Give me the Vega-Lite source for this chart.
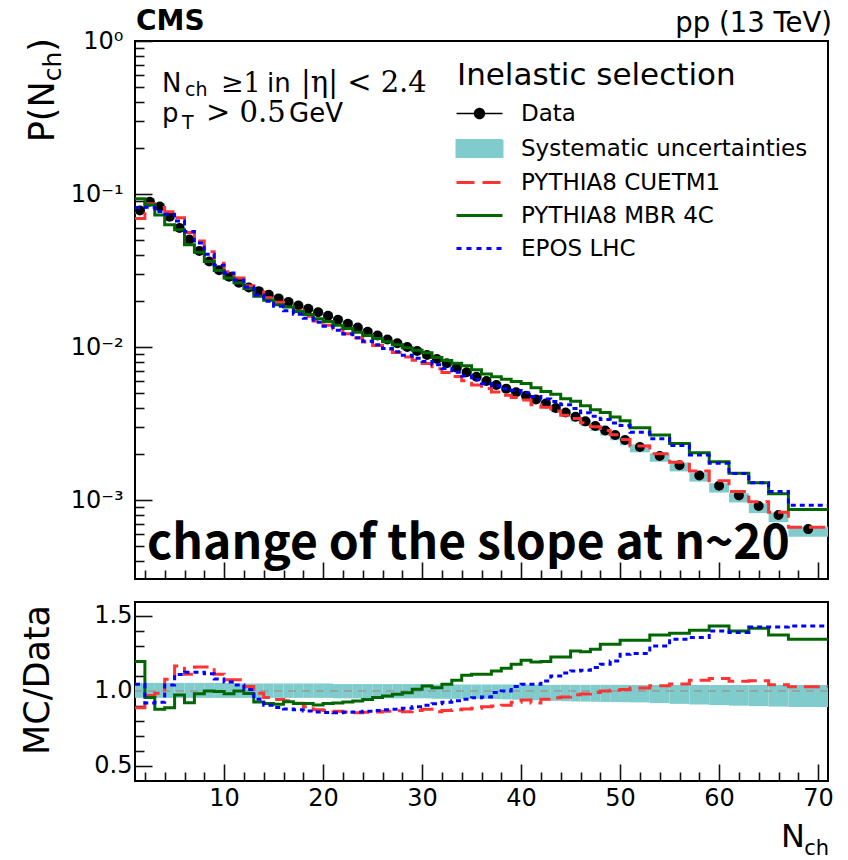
{
"$schema": "https://vega.github.io/schema/vega-lite/v6.json",
"background": "white",
"padding": {"left": 20, "top": 7, "right": 0, "bottom": 0},
"config": {
  "font": "DejaVu Sans",
  "view": {"stroke": "black", "strokeWidth": 2},
  "axis": {"grid": false, "domain": false, "tickColor": "#111111", "tickWidth": 1.6, "labelFont": "DejaVu Sans", "labelFontSize": 24, "labelColor": "black", "minExtent": 0}
},
"datasets": {
"bins": [
{"x0":1,"x1":2,"xc":1.5,"d":0.078,"dlo":0.0744,"dhi":0.0822,"lo":0.954,"hi":1.054},
{"x0":2,"x1":3,"xc":2.5,"d":0.089,"dlo":0.0849,"dhi":0.0938,"lo":0.954,"hi":1.054},
{"x0":3,"x1":4,"xc":3.5,"d":0.083,"dlo":0.0792,"dhi":0.0875,"lo":0.954,"hi":1.054},
{"x0":4,"x1":5,"xc":4.5,"d":0.071,"dlo":0.0677,"dhi":0.0748,"lo":0.954,"hi":1.054},
{"x0":5,"x1":6,"xc":5.5,"d":0.060,"dlo":0.0572,"dhi":0.0632,"lo":0.954,"hi":1.054},
{"x0":6,"x1":7,"xc":6.5,"d":0.0505,"dlo":0.0482,"dhi":0.0532,"lo":0.954,"hi":1.054},
{"x0":7,"x1":8,"xc":7.5,"d":0.0425,"dlo":0.0405,"dhi":0.0448,"lo":0.954,"hi":1.054},
{"x0":8,"x1":9,"xc":8.5,"d":0.0362,"dlo":0.0345,"dhi":0.0382,"lo":0.954,"hi":1.054},
{"x0":9,"x1":10,"xc":9.5,"d":0.0318,"dlo":0.0303,"dhi":0.0335,"lo":0.954,"hi":1.054},
{"x0":10,"x1":11,"xc":10.5,"d":0.0288,"dlo":0.0275,"dhi":0.0304,"lo":0.954,"hi":1.054},
{"x0":11,"x1":12,"xc":11.5,"d":0.0263,"dlo":0.0251,"dhi":0.0276,"lo":0.954,"hi":1.05},
{"x0":12,"x1":13,"xc":12.5,"d":0.0245,"dlo":0.0234,"dhi":0.0257,"lo":0.954,"hi":1.05},
{"x0":13,"x1":14,"xc":13.5,"d":0.0232,"dlo":0.0221,"dhi":0.0244,"lo":0.954,"hi":1.05},
{"x0":14,"x1":15,"xc":14.5,"d":0.0220,"dlo":0.0210,"dhi":0.0231,"lo":0.954,"hi":1.05},
{"x0":15,"x1":16,"xc":15.5,"d":0.0208,"dlo":0.0198,"dhi":0.0218,"lo":0.954,"hi":1.05},
{"x0":16,"x1":17,"xc":16.5,"d":0.0197,"dlo":0.0188,"dhi":0.0207,"lo":0.954,"hi":1.05},
{"x0":17,"x1":18,"xc":17.5,"d":0.0187,"dlo":0.0178,"dhi":0.0196,"lo":0.954,"hi":1.05},
{"x0":18,"x1":19,"xc":18.5,"d":0.0178,"dlo":0.0170,"dhi":0.0187,"lo":0.954,"hi":1.05},
{"x0":19,"x1":20,"xc":19.5,"d":0.0169,"dlo":0.0161,"dhi":0.0177,"lo":0.954,"hi":1.05},
{"x0":20,"x1":21,"xc":20.5,"d":0.0160,"dlo":0.0153,"dhi":0.0168,"lo":0.954,"hi":1.05},
{"x0":21,"x1":22,"xc":21.5,"d":0.0151,"dlo":0.0144,"dhi":0.0158,"lo":0.951,"hi":1.046},
{"x0":22,"x1":23,"xc":22.5,"d":0.0142,"dlo":0.0135,"dhi":0.0149,"lo":0.951,"hi":1.046},
{"x0":23,"x1":24,"xc":23.5,"d":0.0134,"dlo":0.0127,"dhi":0.0140,"lo":0.951,"hi":1.046},
{"x0":24,"x1":25,"xc":24.5,"d":0.0126,"dlo":0.0120,"dhi":0.0132,"lo":0.951,"hi":1.046},
{"x0":25,"x1":26,"xc":25.5,"d":0.0119,"dlo":0.0113,"dhi":0.0124,"lo":0.951,"hi":1.046},
{"x0":26,"x1":27,"xc":26.5,"d":0.0112,"dlo":0.01065,"dhi":0.01172,"lo":0.951,"hi":1.046},
{"x0":27,"x1":28,"xc":27.5,"d":0.0106,"dlo":0.01008,"dhi":0.01109,"lo":0.951,"hi":1.046},
{"x0":28,"x1":29,"xc":28.5,"d":0.0100,"dlo":0.00951,"dhi":0.01046,"lo":0.951,"hi":1.046},
{"x0":29,"x1":30,"xc":29.5,"d":0.00943,"dlo":0.00897,"dhi":0.00986,"lo":0.951,"hi":1.046},
{"x0":30,"x1":31,"xc":30.5,"d":0.00888,"dlo":0.00844,"dhi":0.00929,"lo":0.951,"hi":1.046},
{"x0":31,"x1":32,"xc":31.5,"d":0.00836,"dlo":0.00793,"dhi":0.00872,"lo":0.948,"hi":1.043},
{"x0":32,"x1":33,"xc":32.5,"d":0.00783,"dlo":0.00742,"dhi":0.00817,"lo":0.948,"hi":1.043},
{"x0":33,"x1":34,"xc":33.5,"d":0.00733,"dlo":0.00695,"dhi":0.00765,"lo":0.948,"hi":1.043},
{"x0":34,"x1":35,"xc":34.5,"d":0.00684,"dlo":0.00648,"dhi":0.00713,"lo":0.948,"hi":1.043},
{"x0":35,"x1":36,"xc":35.5,"d":0.00640,"dlo":0.00607,"dhi":0.00668,"lo":0.948,"hi":1.043},
{"x0":36,"x1":37,"xc":36.5,"d":0.00600,"dlo":0.00569,"dhi":0.00626,"lo":0.948,"hi":1.043},
{"x0":37,"x1":38,"xc":37.5,"d":0.00565,"dlo":0.00534,"dhi":0.00589,"lo":0.946,"hi":1.043},
{"x0":38,"x1":39,"xc":38.5,"d":0.00535,"dlo":0.00505,"dhi":0.00558,"lo":0.944,"hi":1.043},
{"x0":39,"x1":40,"xc":39.5,"d":0.00506,"dlo":0.00477,"dhi":0.00528,"lo":0.942,"hi":1.043},
{"x0":40,"x1":41,"xc":40.5,"d":0.00480,"dlo":0.00451,"dhi":0.00501,"lo":0.940,"hi":1.043},
{"x0":41,"x1":42,"xc":41.5,"d":0.00455,"dlo":0.00427,"dhi":0.00474,"lo":0.938,"hi":1.041},
{"x0":42,"x1":43,"xc":42.5,"d":0.00428,"dlo":0.00401,"dhi":0.00446,"lo":0.936,"hi":1.041},
{"x0":43,"x1":44,"xc":43.5,"d":0.00400,"dlo":0.00374,"dhi":0.00416,"lo":0.934,"hi":1.041},
{"x0":44,"x1":45,"xc":44.5,"d":0.00374,"dlo":0.00349,"dhi":0.00389,"lo":0.932,"hi":1.041},
{"x0":45,"x1":46,"xc":45.5,"d":0.00350,"dlo":0.00326,"dhi":0.00364,"lo":0.930,"hi":1.041},
{"x0":46,"x1":47,"xc":46.5,"d":0.00327,"dlo":0.00304,"dhi":0.00340,"lo":0.929,"hi":1.041},
{"x0":47,"x1":48,"xc":47.5,"d":0.00305,"dlo":0.00283,"dhi":0.00318,"lo":0.928,"hi":1.041},
{"x0":48,"x1":49,"xc":48.5,"d":0.00285,"dlo":0.00264,"dhi":0.00297,"lo":0.927,"hi":1.041},
{"x0":49,"x1":50,"xc":49.5,"d":0.00266,"dlo":0.00246,"dhi":0.00277,"lo":0.926,"hi":1.041},
{"x0":50,"x1":51,"xc":50.5,"d":0.00247,"dlo":0.00228,"dhi":0.00257,"lo":0.925,"hi":1.041},
{"x0":51,"x1":53,"xc":52,"d":0.00222,"dlo":0.00205,"dhi":0.00231,"lo":0.924,"hi":1.04},
{"x0":53,"x1":55,"xc":54,"d":0.00194,"dlo":0.00178,"dhi":0.00202,"lo":0.919,"hi":1.04},
{"x0":55,"x1":57,"xc":56,"d":0.00169,"dlo":0.00154,"dhi":0.00176,"lo":0.914,"hi":1.04},
{"x0":57,"x1":59,"xc":58,"d":0.00145,"dlo":0.00132,"dhi":0.00151,"lo":0.910,"hi":1.04},
{"x0":59,"x1":61,"xc":60,"d":0.00124,"dlo":0.00112,"dhi":0.00129,"lo":0.906,"hi":1.04},
{"x0":61,"x1":63,"xc":62,"d":0.00107,"dlo":0.000965,"dhi":0.00111,"lo":0.902,"hi":1.04},
{"x0":63,"x1":65,"xc":64,"d":0.000914,"dlo":0.000822,"dhi":0.000951,"lo":0.899,"hi":1.04},
{"x0":65,"x1":67,"xc":66,"d":0.000800,"dlo":0.000717,"dhi":0.000832,"lo":0.896,"hi":1.04},
{"x0":67,"x1":71,"xc":69,"d":0.000646,"dlo":0.000577,"dhi":0.000672,"lo":0.893,"hi":1.04}
],
"mc": [
{"m":"PYTHIA8 CUETM1","x":1,"p":0.0693,"r":0.889},
{"m":"PYTHIA8 CUETM1","x":2,"p":0.0863,"r":0.97},
{"m":"PYTHIA8 CUETM1","x":3,"p":0.0818,"r":0.985},
{"m":"PYTHIA8 CUETM1","x":4,"p":0.0765,"r":1.078},
{"m":"PYTHIA8 CUETM1","x":5,"p":0.0700,"r":1.167},
{"m":"PYTHIA8 CUETM1","x":6,"p":0.0561,"r":1.111},
{"m":"PYTHIA8 CUETM1","x":7,"p":0.0493,"r":1.16},
{"m":"PYTHIA8 CUETM1","x":8,"p":0.0420,"r":1.16},
{"m":"PYTHIA8 CUETM1","x":9,"p":0.0353,"r":1.111},
{"m":"PYTHIA8 CUETM1","x":10,"p":0.0310,"r":1.075},
{"m":"PYTHIA8 CUETM1","x":11,"p":0.0283,"r":1.075},
{"m":"PYTHIA8 CUETM1","x":12,"p":0.0252,"r":1.03},
{"m":"PYTHIA8 CUETM1","x":13,"p":0.0229,"r":0.985},
{"m":"PYTHIA8 CUETM1","x":14,"p":0.0210,"r":0.956},
{"m":"PYTHIA8 CUETM1","x":15,"p":0.0196,"r":0.944},
{"m":"PYTHIA8 CUETM1","x":16,"p":0.0184,"r":0.935},
{"m":"PYTHIA8 CUETM1","x":17,"p":0.0172,"r":0.918},
{"m":"PYTHIA8 CUETM1","x":18,"p":0.0159,"r":0.895},
{"m":"PYTHIA8 CUETM1","x":19,"p":0.0148,"r":0.875},
{"m":"PYTHIA8 CUETM1","x":20,"p":0.0139,"r":0.87},
{"m":"PYTHIA8 CUETM1","x":21,"p":0.0131,"r":0.865},
{"m":"PYTHIA8 CUETM1","x":22,"p":0.0122,"r":0.86},
{"m":"PYTHIA8 CUETM1","x":23,"p":0.01146,"r":0.855},
{"m":"PYTHIA8 CUETM1","x":24,"p":0.01081,"r":0.858},
{"m":"PYTHIA8 CUETM1","x":25,"p":0.01023,"r":0.86},
{"m":"PYTHIA8 CUETM1","x":26,"p":0.00969,"r":0.865},
{"m":"PYTHIA8 CUETM1","x":27,"p":0.00920,"r":0.868},
{"m":"PYTHIA8 CUETM1","x":28,"p":0.00862,"r":0.862},
{"m":"PYTHIA8 CUETM1","x":29,"p":0.00820,"r":0.87},
{"m":"PYTHIA8 CUETM1","x":30,"p":0.00780,"r":0.878},
{"m":"PYTHIA8 CUETM1","x":31,"p":0.00721,"r":0.862},
{"m":"PYTHIA8 CUETM1","x":32,"p":0.00681,"r":0.87},
{"m":"PYTHIA8 CUETM1","x":33,"p":0.00641,"r":0.875},
{"m":"PYTHIA8 CUETM1","x":34,"p":0.00602,"r":0.88},
{"m":"PYTHIA8 CUETM1","x":35,"p":0.00566,"r":0.885},
{"m":"PYTHIA8 CUETM1","x":36,"p":0.00537,"r":0.895},
{"m":"PYTHIA8 CUETM1","x":37,"p":0.00509,"r":0.90},
{"m":"PYTHIA8 CUETM1","x":38,"p":0.00484,"r":0.905},
{"m":"PYTHIA8 CUETM1","x":39,"p":0.00468,"r":0.925},
{"m":"PYTHIA8 CUETM1","x":40,"p":0.00451,"r":0.94},
{"m":"PYTHIA8 CUETM1","x":41,"p":0.00419,"r":0.92},
{"m":"PYTHIA8 CUETM1","x":42,"p":0.00404,"r":0.945},
{"m":"PYTHIA8 CUETM1","x":43,"p":0.00382,"r":0.955},
{"m":"PYTHIA8 CUETM1","x":44,"p":0.00359,"r":0.96},
{"m":"PYTHIA8 CUETM1","x":45,"p":0.00341,"r":0.975},
{"m":"PYTHIA8 CUETM1","x":46,"p":0.00320,"r":0.98},
{"m":"PYTHIA8 CUETM1","x":47,"p":0.00302,"r":0.99},
{"m":"PYTHIA8 CUETM1","x":48,"p":0.00285,"r":1.0},
{"m":"PYTHIA8 CUETM1","x":49,"p":0.00267,"r":1.005},
{"m":"PYTHIA8 CUETM1","x":50,"p":0.00249,"r":1.01},
{"m":"PYTHIA8 CUETM1","x":51,"p":0.00226,"r":1.02},
{"m":"PYTHIA8 CUETM1","x":53,"p":0.00201,"r":1.035},
{"m":"PYTHIA8 CUETM1","x":55,"p":0.00177,"r":1.047},
{"m":"PYTHIA8 CUETM1","x":57,"p":0.00155,"r":1.072},
{"m":"PYTHIA8 CUETM1","x":59,"p":0.00134,"r":1.083},
{"m":"PYTHIA8 CUETM1","x":61,"p":0.00114,"r":1.065},
{"m":"PYTHIA8 CUETM1","x":63,"p":0.000976,"r":1.068},
{"m":"PYTHIA8 CUETM1","x":65,"p":0.000834,"r":1.042},
{"m":"PYTHIA8 CUETM1","x":67,"p":0.000664,"r":1.028},
{"m":"PYTHIA8 CUETM1","x":71,"p":0.000664,"r":1.028},
{"m":"PYTHIA8 MBR 4C","x":1,"p":0.0933,"r":1.196},
{"m":"PYTHIA8 MBR 4C","x":2,"p":0.0851,"r":0.956},
{"m":"PYTHIA8 MBR 4C","x":3,"p":0.0729,"r":0.878},
{"m":"PYTHIA8 MBR 4C","x":4,"p":0.0631,"r":0.889},
{"m":"PYTHIA8 MBR 4C","x":5,"p":0.0584,"r":0.973},
{"m":"PYTHIA8 MBR 4C","x":6,"p":0.0466,"r":0.922},
{"m":"PYTHIA8 MBR 4C","x":7,"p":0.0417,"r":0.982},
{"m":"PYTHIA8 MBR 4C","x":8,"p":0.0362,"r":1.0},
{"m":"PYTHIA8 MBR 4C","x":9,"p":0.0317,"r":0.996},
{"m":"PYTHIA8 MBR 4C","x":10,"p":0.0283,"r":0.982},
{"m":"PYTHIA8 MBR 4C","x":11,"p":0.0263,"r":1.0},
{"m":"PYTHIA8 MBR 4C","x":12,"p":0.0241,"r":0.984},
{"m":"PYTHIA8 MBR 4C","x":13,"p":0.0215,"r":0.927},
{"m":"PYTHIA8 MBR 4C","x":14,"p":0.0202,"r":0.916},
{"m":"PYTHIA8 MBR 4C","x":15,"p":0.0189,"r":0.911},
{"m":"PYTHIA8 MBR 4C","x":16,"p":0.0183,"r":0.929},
{"m":"PYTHIA8 MBR 4C","x":17,"p":0.0171,"r":0.916},
{"m":"PYTHIA8 MBR 4C","x":18,"p":0.0163,"r":0.916},
{"m":"PYTHIA8 MBR 4C","x":19,"p":0.0153,"r":0.907},
{"m":"PYTHIA8 MBR 4C","x":20,"p":0.0147,"r":0.916},
{"m":"PYTHIA8 MBR 4C","x":21,"p":0.0139,"r":0.92},
{"m":"PYTHIA8 MBR 4C","x":22,"p":0.0132,"r":0.927},
{"m":"PYTHIA8 MBR 4C","x":23,"p":0.0125,"r":0.933},
{"m":"PYTHIA8 MBR 4C","x":24,"p":0.0119,"r":0.944},
{"m":"PYTHIA8 MBR 4C","x":25,"p":0.01138,"r":0.956},
{"m":"PYTHIA8 MBR 4C","x":26,"p":0.01083,"r":0.967},
{"m":"PYTHIA8 MBR 4C","x":27,"p":0.01037,"r":0.978},
{"m":"PYTHIA8 MBR 4C","x":28,"p":0.00989,"r":0.989},
{"m":"PYTHIA8 MBR 4C","x":29,"p":0.00953,"r":1.011},
{"m":"PYTHIA8 MBR 4C","x":30,"p":0.00917,"r":1.033},
{"m":"PYTHIA8 MBR 4C","x":31,"p":0.00854,"r":1.022},
{"m":"PYTHIA8 MBR 4C","x":32,"p":0.00817,"r":1.044},
{"m":"PYTHIA8 MBR 4C","x":33,"p":0.00785,"r":1.071},
{"m":"PYTHIA8 MBR 4C","x":34,"p":0.00755,"r":1.104},
{"m":"PYTHIA8 MBR 4C","x":35,"p":0.00711,"r":1.111},
{"m":"PYTHIA8 MBR 4C","x":36,"p":0.00667,"r":1.111},
{"m":"PYTHIA8 MBR 4C","x":37,"p":0.00640,"r":1.133},
{"m":"PYTHIA8 MBR 4C","x":38,"p":0.00616,"r":1.151},
{"m":"PYTHIA8 MBR 4C","x":39,"p":0.00596,"r":1.178},
{"m":"PYTHIA8 MBR 4C","x":40,"p":0.00578,"r":1.204},
{"m":"PYTHIA8 MBR 4C","x":41,"p":0.00543,"r":1.193},
{"m":"PYTHIA8 MBR 4C","x":42,"p":0.00512,"r":1.196},
{"m":"PYTHIA8 MBR 4C","x":43,"p":0.00491,"r":1.227},
{"m":"PYTHIA8 MBR 4C","x":44,"p":0.00459,"r":1.227},
{"m":"PYTHIA8 MBR 4C","x":45,"p":0.00443,"r":1.267},
{"m":"PYTHIA8 MBR 4C","x":46,"p":0.00413,"r":1.262},
{"m":"PYTHIA8 MBR 4C","x":47,"p":0.00390,"r":1.278},
{"m":"PYTHIA8 MBR 4C","x":48,"p":0.00374,"r":1.311},
{"m":"PYTHIA8 MBR 4C","x":49,"p":0.00349,"r":1.311},
{"m":"PYTHIA8 MBR 4C","x":50,"p":0.00330,"r":1.338},
{"m":"PYTHIA8 MBR 4C","x":51,"p":0.00297,"r":1.338},
{"m":"PYTHIA8 MBR 4C","x":53,"p":0.00266,"r":1.373},
{"m":"PYTHIA8 MBR 4C","x":55,"p":0.00234,"r":1.384},
{"m":"PYTHIA8 MBR 4C","x":57,"p":0.00204,"r":1.404},
{"m":"PYTHIA8 MBR 4C","x":59,"p":0.00178,"r":1.433},
{"m":"PYTHIA8 MBR 4C","x":61,"p":0.00150,"r":1.40},
{"m":"PYTHIA8 MBR 4C","x":63,"p":0.00130,"r":1.418},
{"m":"PYTHIA8 MBR 4C","x":65,"p":0.00110,"r":1.373},
{"m":"PYTHIA8 MBR 4C","x":67,"p":0.000868,"r":1.344},
{"m":"PYTHIA8 MBR 4C","x":71,"p":0.000868,"r":1.344},
{"m":"EPOS LHC","x":1,"p":0.0815,"r":1.045},
{"m":"EPOS LHC","x":2,"p":0.0819,"r":0.92},
{"m":"EPOS LHC","x":3,"p":0.0768,"r":0.925},
{"m":"EPOS LHC","x":4,"p":0.0738,"r":1.04},
{"m":"EPOS LHC","x":5,"p":0.0666,"r":1.11},
{"m":"EPOS LHC","x":6,"p":0.0568,"r":1.125},
{"m":"EPOS LHC","x":7,"p":0.0478,"r":1.125},
{"m":"EPOS LHC","x":8,"p":0.0404,"r":1.115},
{"m":"EPOS LHC","x":9,"p":0.0343,"r":1.08},
{"m":"EPOS LHC","x":10,"p":0.0305,"r":1.06},
{"m":"EPOS LHC","x":11,"p":0.0274,"r":1.04},
{"m":"EPOS LHC","x":12,"p":0.0247,"r":1.01},
{"m":"EPOS LHC","x":13,"p":0.0219,"r":0.945},
{"m":"EPOS LHC","x":14,"p":0.0199,"r":0.905},
{"m":"EPOS LHC","x":15,"p":0.0185,"r":0.89},
{"m":"EPOS LHC","x":16,"p":0.0173,"r":0.88},
{"m":"EPOS LHC","x":17,"p":0.0164,"r":0.875},
{"m":"EPOS LHC","x":18,"p":0.0154,"r":0.866},
{"m":"EPOS LHC","x":19,"p":0.01453,"r":0.86},
{"m":"EPOS LHC","x":20,"p":0.0137,"r":0.856},
{"m":"EPOS LHC","x":21,"p":0.0129,"r":0.855},
{"m":"EPOS LHC","x":22,"p":0.01218,"r":0.858},
{"m":"EPOS LHC","x":23,"p":0.01152,"r":0.86},
{"m":"EPOS LHC","x":24,"p":0.01090,"r":0.865},
{"m":"EPOS LHC","x":25,"p":0.01035,"r":0.87},
{"m":"EPOS LHC","x":26,"p":0.00980,"r":0.875},
{"m":"EPOS LHC","x":27,"p":0.00931,"r":0.878},
{"m":"EPOS LHC","x":28,"p":0.00885,"r":0.885},
{"m":"EPOS LHC","x":29,"p":0.00844,"r":0.895},
{"m":"EPOS LHC","x":30,"p":0.00804,"r":0.905},
{"m":"EPOS LHC","x":31,"p":0.00765,"r":0.915},
{"m":"EPOS LHC","x":32,"p":0.00724,"r":0.925},
{"m":"EPOS LHC","x":33,"p":0.00685,"r":0.935},
{"m":"EPOS LHC","x":34,"p":0.00646,"r":0.945},
{"m":"EPOS LHC","x":35,"p":0.00611,"r":0.955},
{"m":"EPOS LHC","x":36,"p":0.00576,"r":0.96},
{"m":"EPOS LHC","x":37,"p":0.00559,"r":0.99},
{"m":"EPOS LHC","x":38,"p":0.00535,"r":1.0},
{"m":"EPOS LHC","x":39,"p":0.00521,"r":1.03},
{"m":"EPOS LHC","x":40,"p":0.00502,"r":1.045},
{"m":"EPOS LHC","x":41,"p":0.00475,"r":1.045},
{"m":"EPOS LHC","x":42,"p":0.00457,"r":1.067},
{"m":"EPOS LHC","x":43,"p":0.00440,"r":1.10},
{"m":"EPOS LHC","x":44,"p":0.00419,"r":1.12},
{"m":"EPOS LHC","x":45,"p":0.00397,"r":1.133},
{"m":"EPOS LHC","x":46,"p":0.00372,"r":1.138},
{"m":"EPOS LHC","x":47,"p":0.00353,"r":1.156},
{"m":"EPOS LHC","x":48,"p":0.00336,"r":1.178},
{"m":"EPOS LHC","x":49,"p":0.00319,"r":1.2},
{"m":"EPOS LHC","x":50,"p":0.00307,"r":1.244},
{"m":"EPOS LHC","x":51,"p":0.00278,"r":1.25},
{"m":"EPOS LHC","x":53,"p":0.00252,"r":1.30},
{"m":"EPOS LHC","x":55,"p":0.00227,"r":1.345},
{"m":"EPOS LHC","x":57,"p":0.00197,"r":1.356},
{"m":"EPOS LHC","x":59,"p":0.00174,"r":1.40},
{"m":"EPOS LHC","x":61,"p":0.00149,"r":1.39},
{"m":"EPOS LHC","x":63,"p":0.00130,"r":1.427},
{"m":"EPOS LHC","x":65,"p":0.00114,"r":1.427},
{"m":"EPOS LHC","x":67,"p":0.000926,"r":1.433},
{"m":"EPOS LHC","x":71,"p":0.000926,"r":1.433}
]
},
"spacing": 20,
"resolve": {"scale": {"x": "independent", "y": "independent", "color": "independent", "strokeDash": "independent"}, "legend": {"color": "independent", "strokeDash": "independent"}},
"vconcat": [
{
  "width": 693, "height": 538,
  "resolve": {"axis": {"x": "independent", "y": "independent"}},
  "layer": [
    {
      "data": {"name": "bins"},
      "mark": {"type": "rect"},
      "encoding": {
        "x": {"field": "x0", "type": "quantitative", "scale": {"domain": [1, 71], "nice": false, "zero": false},
              "axis": {"orient": "bottom", "values": [10,20,30,40,50,60,70], "labels": false, "tickSize": -17, "title": null}},
        "x2": {"field": "x1"},
        "y": {"field": "dlo", "type": "quantitative", "scale": {"type": "log", "domain": [0.000305, 1], "nice": false},
              "axis": {"orient": "left", "values": [0.001, 0.01, 0.1, 1], "ticks": false, "tickSize": 0, "labelPadding": 12, "labelFlush": false, "labelOverlap": false, "title": null,
                       "labelExpr": "datum.value > 0.5 ? '10⁰' : datum.value > 0.05 ? '10⁻¹' : datum.value > 0.005 ? '10⁻²' : '10⁻³'"}},
        "y2": {"field": "dhi"},
        "color": {"datum": "Systematic uncertainties", "type": "nominal",
                  "scale": {"domain": ["Data", "Systematic uncertainties", "PYTHIA8 CUETM1", "PYTHIA8 MBR 4C", "EPOS LHC"], "range": ["#000000", "#80cccc", "#ff3333", "#006600", "#0000ff"]},
                  "legend": {
                    "orient": "none", "legendX": 322, "legendY": 20, "direction": "vertical", "padding": 0,
                    "title": "Inelastic selection", "titleFont": "DejaVu Sans", "titleFontSize": 31, "titleFontWeight": "normal", "titleColor": "black", "titlePadding": 10, "titleLimit": 600,
                    "labelFont": "DejaVu Sans", "labelFontSize": 23, "labelColor": "black", "labelLimit": 600, "labelOffset": 30,
                    "symbolSize": 529, "symbolOffset": 11, "rowPadding": 9,
                    "encode": {"symbols": {"update": {
                      "shape": {"signal": "datum.value === 'Data' ? 'M-2,0H2M0.43,0A0.43,0.43,0,1,1,-0.43,0A0.43,0.43,0,1,1,0.43,0' : datum.value === 'Systematic uncertainties' ? 'M-2,-0.74H2V0.74H-2Z' : 'M-2,0H2'"},
                      "fill": {"signal": "datum.value === 'Data' ? '#000000' : datum.value === 'Systematic uncertainties' ? '#80cccc' : 'transparent'"},
                      "stroke": {"signal": "datum.value === 'PYTHIA8 CUETM1' ? '#ff3333' : datum.value === 'PYTHIA8 MBR 4C' ? '#006600' : datum.value === 'EPOS LHC' ? '#0000ff' : '#000000'"},
                      "strokeWidth": {"signal": "datum.value === 'Data' ? 1.5 : datum.value === 'Systematic uncertainties' ? 2 : 3"},
                      "strokeDash": {"signal": "datum.value === 'PYTHIA8 CUETM1' ? [18, 8] : datum.value === 'EPOS LHC' ? [5, 5] : [1, 0]"},
                      "strokeOpacity": {"value": 1},
                      "opacity": {"value": 1}
                    }}}
                  }}
      }
    },
    {
      "data": {"name": "bins"},
      "mark": {"type": "point", "filled": true, "size": 100, "opacity": 1, "strokeWidth": 0},
      "encoding": {
        "x": {"field": "xc", "type": "quantitative", "scale": {"domain": [1, 71], "nice": false, "zero": false},
              "axis": {"orient": "bottom", "values": [2,4,6,8,12,14,16,18,22,24,26,28,32,34,36,38,42,44,46,48,52,54,56,58,62,64,66,68], "labels": false, "tickSize": -9, "title": null}},
        "y": {"field": "d", "type": "quantitative", "scale": {"type": "log", "domain": [0.000305, 1], "nice": false},
              "axis": {"orient": "left", "values": [0.001, 0.01, 0.1, 1], "labels": false, "tickSize": -17, "title": null}},
        "color": {"datum": "Data", "type": "nominal", "scale": {"domain": ["Data", "Systematic uncertainties", "PYTHIA8 CUETM1", "PYTHIA8 MBR 4C", "EPOS LHC"], "range": ["#000000", "#80cccc", "#ff3333", "#006600", "#0000ff"]}}
      }
    },
    {
      "data": {"name": "mc"},
      "mark": {"type": "line", "interpolate": "step-after", "strokeWidth": 3},
      "encoding": {
        "x": {"field": "x", "type": "quantitative", "scale": {"domain": [1, 71], "nice": false, "zero": false}, "axis": null},
        "y": {"field": "p", "type": "quantitative", "scale": {"type": "log", "domain": [0.000305, 1], "nice": false},
              "axis": {"orient": "left", "values": [0.0004,0.0005,0.0006,0.0007,0.0008,0.0009,0.002,0.003,0.004,0.005,0.006,0.007,0.008,0.009,0.02,0.03,0.04,0.05,0.06,0.07,0.08,0.09,0.2,0.3,0.4,0.5,0.6,0.7,0.8,0.9], "labels": false, "tickSize": -9, "title": null}},
        "color": {"field": "m", "type": "nominal", "scale": {"domain": ["Data", "Systematic uncertainties", "PYTHIA8 CUETM1", "PYTHIA8 MBR 4C", "EPOS LHC"], "range": ["#000000", "#80cccc", "#ff3333", "#006600", "#0000ff"]}},
        "strokeDash": {"field": "m", "type": "nominal", "scale": {"domain": ["PYTHIA8 CUETM1", "PYTHIA8 MBR 4C", "EPOS LHC"], "range": [[16, 7], [1, 0], [5, 4]]}, "legend": null}
      }
    },
    {
      "data": {"values": [{"x": 1, "y": 1, "t": "CMS"}]},
      "mark": {"type": "text", "align": "left", "baseline": "alphabetic", "dx": 1, "dy": -11, "font": "DejaVu Sans", "fontWeight": "bold", "fontSize": 28, "color": "black"},
      "encoding": {"x": {"field": "x", "type": "quantitative", "axis": null}, "y": {"field": "y", "type": "quantitative", "axis": null}, "text": {"field": "t"}}
    },
    {
      "data": {"values": [{"x": 71, "y": 1, "t": "pp (13 TeV)"}]},
      "mark": {"type": "text", "align": "right", "baseline": "alphabetic", "dx": 4, "dy": -9, "font": "DejaVu Sans", "fontSize": 27.5, "color": "black"},
      "encoding": {"x": {"field": "x", "type": "quantitative", "axis": null}, "y": {"field": "y", "type": "quantitative", "axis": null}, "text": {"field": "t"}}
    },
    {
      "data": {"values": [{"x": 1, "y": 1, "t": "N"}]},
      "mark": {"type": "text", "align": "left", "baseline": "alphabetic", "dx": 27, "dy": 51, "font": "DejaVu Sans", "fontSize": 26, "color": "black"},
      "encoding": {"x": {"field": "x", "type": "quantitative", "axis": null}, "y": {"field": "y", "type": "quantitative", "axis": null}, "text": {"field": "t"}}
    },
    {
      "data": {"values": [{"x": 1, "y": 1, "t": "ch"}]},
      "mark": {"type": "text", "align": "left", "baseline": "alphabetic", "dx": 50, "dy": 55, "font": "DejaVu Sans", "fontSize": 19, "color": "black"},
      "encoding": {"x": {"field": "x", "type": "quantitative", "axis": null}, "y": {"field": "y", "type": "quantitative", "axis": null}, "text": {"field": "t"}}
    },
    {
      "data": {"values": [{"x": 1, "y": 1, "t": "≥1"}]},
      "mark": {"type": "text", "align": "left", "baseline": "alphabetic", "dx": 86, "dy": 51, "font": "DejaVu Serif", "fontSize": 27, "color": "black"},
      "encoding": {"x": {"field": "x", "type": "quantitative", "axis": null}, "y": {"field": "y", "type": "quantitative", "axis": null}, "text": {"field": "t"}}
    },
    {
      "data": {"values": [{"x": 1, "y": 1, "t": "in"}]},
      "mark": {"type": "text", "align": "left", "baseline": "alphabetic", "dx": 132, "dy": 51, "font": "DejaVu Sans", "fontSize": 26, "color": "black"},
      "encoding": {"x": {"field": "x", "type": "quantitative", "axis": null}, "y": {"field": "y", "type": "quantitative", "axis": null}, "text": {"field": "t"}}
    },
    {
      "data": {"values": [{"x": 1, "y": 1, "t": "|η| < 2.4"}]},
      "mark": {"type": "text", "align": "left", "baseline": "alphabetic", "dx": 166, "dy": 51, "font": "DejaVu Serif", "fontSize": 29, "color": "black"},
      "encoding": {"x": {"field": "x", "type": "quantitative", "axis": null}, "y": {"field": "y", "type": "quantitative", "axis": null}, "text": {"field": "t"}}
    },
    {
      "data": {"values": [{"x": 1, "y": 1, "t": "p"}]},
      "mark": {"type": "text", "align": "left", "baseline": "alphabetic", "dx": 27, "dy": 81, "font": "DejaVu Sans", "fontSize": 26, "color": "black"},
      "encoding": {"x": {"field": "x", "type": "quantitative", "axis": null}, "y": {"field": "y", "type": "quantitative", "axis": null}, "text": {"field": "t"}}
    },
    {
      "data": {"values": [{"x": 1, "y": 1, "t": "T"}]},
      "mark": {"type": "text", "align": "left", "baseline": "alphabetic", "dx": 47, "dy": 88, "font": "DejaVu Sans", "fontSize": 19, "color": "black"},
      "encoding": {"x": {"field": "x", "type": "quantitative", "axis": null}, "y": {"field": "y", "type": "quantitative", "axis": null}, "text": {"field": "t"}}
    },
    {
      "data": {"values": [{"x": 1, "y": 1, "t": "> 0.5"}]},
      "mark": {"type": "text", "align": "left", "baseline": "alphabetic", "dx": 71, "dy": 81, "font": "DejaVu Serif", "fontSize": 29, "color": "black"},
      "encoding": {"x": {"field": "x", "type": "quantitative", "axis": null}, "y": {"field": "y", "type": "quantitative", "axis": null}, "text": {"field": "t"}}
    },
    {
      "data": {"values": [{"x": 1, "y": 1, "t": "GeV"}]},
      "mark": {"type": "text", "align": "left", "baseline": "alphabetic", "dx": 154, "dy": 81, "font": "DejaVu Sans", "fontSize": 26, "color": "black"},
      "encoding": {"x": {"field": "x", "type": "quantitative", "axis": null}, "y": {"field": "y", "type": "quantitative", "axis": null}, "text": {"field": "t"}}
    },
    {
      "data": {"values": [{"x": 1, "y": 0.000305, "t": "change of the slope at n~20"}]},
      "mark": {"type": "text", "align": "left", "baseline": "alphabetic", "dx": 12, "dy": -20, "font": "Noto Sans CJK JP", "fontWeight": "bold", "fontSize": 48, "color": "black"},
      "encoding": {"x": {"field": "x", "type": "quantitative", "axis": null}, "y": {"field": "y", "type": "quantitative", "axis": null}, "text": {"field": "t"}}
    },
    {
      "data": {"values": [{"x": 1, "y": 1, "t": ")"}]},
      "mark": {"type": "text", "angle": 270, "align": "right", "baseline": "alphabetic", "dx": 3, "dy": -81, "font": "DejaVu Sans", "fontSize": 35, "color": "black"},
      "encoding": {"x": {"field": "x", "type": "quantitative", "axis": null}, "y": {"field": "y", "type": "quantitative", "axis": null}, "text": {"field": "t"}}
    },
    {
      "data": {"values": [{"x": 1, "y": 1, "t": "ch"}]},
      "mark": {"type": "text", "angle": 270, "align": "right", "baseline": "alphabetic", "dx": -10.7, "dy": -74, "font": "DejaVu Sans", "fontSize": 25, "color": "black"},
      "encoding": {"x": {"field": "x", "type": "quantitative", "axis": null}, "y": {"field": "y", "type": "quantitative", "axis": null}, "text": {"field": "t"}}
    },
    {
      "data": {"values": [{"x": 1, "y": 1, "t": "P(N"}]},
      "mark": {"type": "text", "angle": 270, "align": "right", "baseline": "alphabetic", "dx": -40.3, "dy": -81, "font": "DejaVu Sans", "fontSize": 35, "color": "black"},
      "encoding": {"x": {"field": "x", "type": "quantitative", "axis": null}, "y": {"field": "y", "type": "quantitative", "axis": null}, "text": {"field": "t"}}
    }
  ]
},
{
  "width": 693, "height": 179,
  "resolve": {"axis": {"x": "independent", "y": "independent"}},
  "layer": [
    {
      "data": {"name": "bins"},
      "mark": {"type": "rect"},
      "encoding": {
        "x": {"field": "x0", "type": "quantitative", "scale": {"domain": [1, 71], "nice": false, "zero": false},
              "axis": {"orient": "bottom", "values": [10,20,30,40,50,60,70], "ticks": false, "tickSize": 0, "labelPadding": 5, "format": "d", "labelFlush": false, "labelOverlap": false, "title": null}},
        "x2": {"field": "x1"},
        "y": {"field": "lo", "type": "quantitative", "scale": {"domain": [0.4, 1.593], "nice": false, "zero": false},
              "axis": {"orient": "left", "values": [0.5, 1, 1.5], "ticks": false, "tickSize": 0, "labelPadding": 3, "format": ".1f", "labelFlush": false, "labelOverlap": false, "title": null}},
        "y2": {"field": "hi"},
        "color": {"datum": "Systematic uncertainties", "type": "nominal", "legend": null,
                  "scale": {"domain": ["Data", "Systematic uncertainties", "PYTHIA8 CUETM1", "PYTHIA8 MBR 4C", "EPOS LHC"], "range": ["#000000", "#80cccc", "#ff3333", "#006600", "#0000ff"]}}
      }
    },
    {
      "data": {"values": [{}]},
      "mark": {"type": "rule", "color": "#999999", "strokeDash": [8, 6], "strokeWidth": 1.5},
      "encoding": {
        "y": {"datum": 1, "type": "quantitative", "scale": {"domain": [0.4, 1.593], "nice": false, "zero": false},
              "axis": {"orient": "left", "values": [0.5, 1, 1.5], "labels": false, "tickSize": -17, "title": null}}
      }
    },
    {
      "data": {"name": "mc"},
      "mark": {"type": "line", "interpolate": "step-after", "strokeWidth": 3},
      "encoding": {
        "x": {"field": "x", "type": "quantitative", "scale": {"domain": [1, 71], "nice": false, "zero": false},
              "axis": {"orient": "bottom", "values": [10,20,30,40,50,60,70], "labels": false, "tickSize": -17, "title": null}},
        "y": {"field": "r", "type": "quantitative", "scale": {"domain": [0.4, 1.593], "nice": false, "zero": false},
              "axis": {"orient": "left", "values": [0.6, 0.7, 0.8, 0.9, 1.1, 1.2, 1.3, 1.4], "labels": false, "tickSize": -9, "title": null}},
        "color": {"field": "m", "type": "nominal", "legend": null, "scale": {"domain": ["Data", "Systematic uncertainties", "PYTHIA8 CUETM1", "PYTHIA8 MBR 4C", "EPOS LHC"], "range": ["#000000", "#80cccc", "#ff3333", "#006600", "#0000ff"]}},
        "strokeDash": {"field": "m", "type": "nominal", "scale": {"domain": ["PYTHIA8 CUETM1", "PYTHIA8 MBR 4C", "EPOS LHC"], "range": [[16, 7], [1, 0], [5, 4]]}, "legend": null}
      }
    },
    {
      "data": {"values": [{"x": 71, "y": 0.4, "t": "N"}]},
      "mark": {"type": "text", "align": "right", "baseline": "alphabetic", "dx": -23, "dy": 66, "font": "DejaVu Sans", "fontSize": 32, "color": "black"},
      "encoding": {
        "x": {"field": "x", "type": "quantitative", "axis": {"orient": "bottom", "values": [2,4,6,8,12,14,16,18,22,24,26,28,32,34,36,38,42,44,46,48,52,54,56,58,62,64,66,68], "labels": false, "tickSize": -9, "title": null}},
        "y": {"field": "y", "type": "quantitative", "axis": null}, "text": {"field": "t"}}
    },
    {
      "data": {"values": [{"x": 71, "y": 0.4, "t": "ch"}]},
      "mark": {"type": "text", "align": "right", "baseline": "alphabetic", "dx": 1, "dy": 74, "font": "DejaVu Sans", "fontSize": 21, "color": "black"},
      "encoding": {"x": {"field": "x", "type": "quantitative", "axis": null}, "y": {"field": "y", "type": "quantitative", "axis": null}, "text": {"field": "t"}}
    },
    {
      "data": {"values": [{"x": 1, "y": 1.593, "t": "MC/Data"}]},
      "mark": {"type": "text", "angle": 270, "align": "right", "baseline": "alphabetic", "dx": -3, "dy": -86, "font": "DejaVu Sans", "fontSize": 35, "color": "black"},
      "encoding": {"x": {"field": "x", "type": "quantitative", "axis": null}, "y": {"field": "y", "type": "quantitative", "axis": null}, "text": {"field": "t"}}
    }
  ]
}
]
}
